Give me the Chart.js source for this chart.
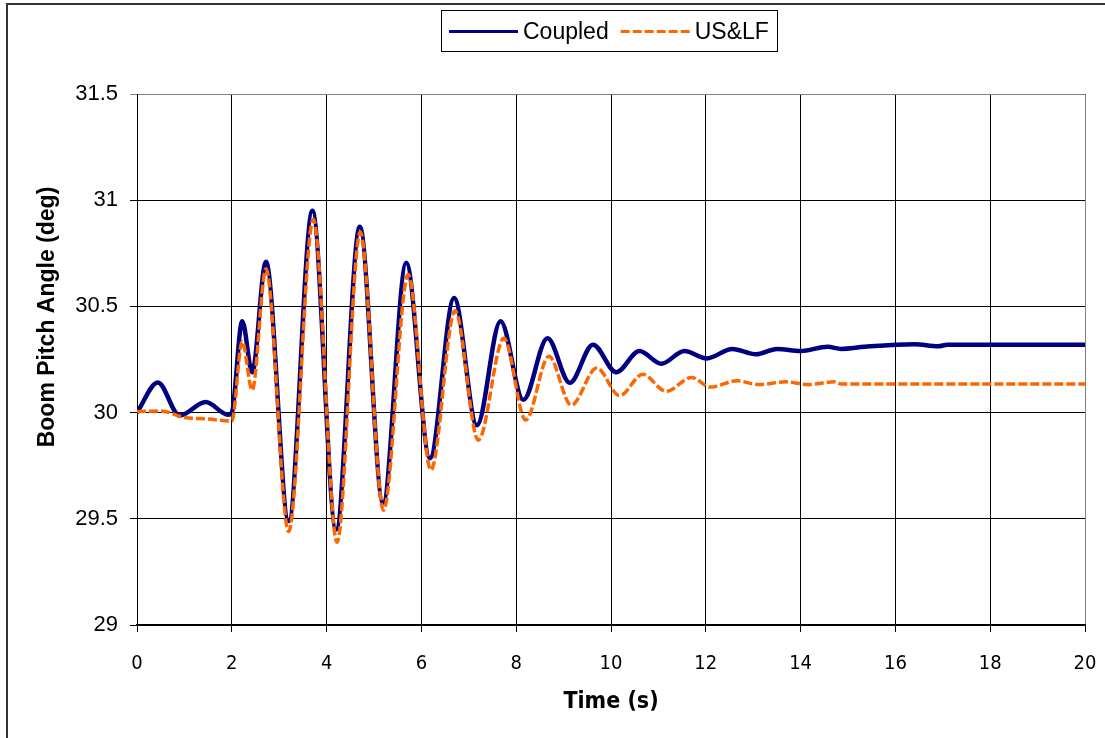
<!DOCTYPE html>
<html>
<head>
<meta charset="utf-8">
<title>Boom Pitch Angle</title>
<script src="https://cdn.jsdelivr.net/npm/chart.js@4.4.0/dist/chart.umd.min.js"></script>
<style>
  html, body { margin: 0; padding: 0; background: #fff; }
  #chart { display: block; }
</style>
</head>
<body>
<canvas id="chart" width="1105" height="738"></canvas>
<script>
// Values (peaks, troughs and a few turning points)
const coupledTime = [0, 0.44, 0.9, 1.45, 1.92, 2.0, 2.22, 2.43, 2.72, 3.2, 3.7, 4.2, 4.7, 5.19, 5.68, 6.18, 6.69, 7.17, 7.67, 8.15, 8.66, 9.13, 9.62, 10.11, 10.6, 11.06, 11.55, 12.02, 12.56, 13.06, 13.5, 14.0, 14.57, 14.86, 15.35, 16.4, 16.9, 17.1, 20];
const coupledAngle = [30.0, 30.142, 29.986, 30.05, 29.99, 30.0, 30.43, 30.19, 30.71, 29.49, 30.95, 29.45, 30.875, 29.575, 30.705, 29.785, 30.54, 29.94, 30.43, 30.06, 30.35, 30.14, 30.32, 30.19, 30.29, 30.23, 30.29, 30.255, 30.30, 30.275, 30.30, 30.29, 30.31, 30.30, 30.31, 30.322, 30.312, 30.32, 30.32];

const uslfTime = [0, 0.5, 1.0, 1.5, 2.0, 2.22, 2.43, 2.72, 3.2, 3.72, 4.22, 4.71, 5.2, 5.72, 6.2, 6.71, 7.2, 7.74, 8.2, 8.69, 9.16, 9.7, 10.18, 10.67, 11.16, 11.7, 12.1, 12.66, 13.1, 13.7, 14.15, 14.72, 14.86, 20];
const uslfAngle = [30.005, 30.008, 29.977, 29.97, 29.96, 30.336, 30.106, 30.677, 29.44, 30.91, 29.39, 30.85, 29.54, 30.65, 29.73, 30.48, 29.87, 30.35, 29.965, 30.265, 30.035, 30.21, 30.08, 30.18, 30.10, 30.165, 30.12, 30.15, 30.132, 30.145, 30.132, 30.145, 30.135, 30.135];

const seriesNames = ["Coupled", "US&LF"];
const xTicks = [0, 2, 4, 6, 8, 10, 12, 14, 16, 18, 20];
const yTicks = ["29", "29.5", "30", "30.5", "31", "31.5"];

const NAVY = "#000080";
const ORANGE = "#FF6600";

function toPoints(xs, ys) {
  return xs.map((x, i) => ({ x: x, y: ys[i] }));
}

// background, outer frame, legend box and y title
const decorations = {
  id: "decorations",
  beforeDraw(chart) {
    const ctx = chart.ctx;
    ctx.save();
    ctx.fillStyle = "#fff";
    ctx.fillRect(0, 0, chart.width, chart.height);
    ctx.strokeStyle = "#333";
    ctx.lineWidth = 2;
    ctx.beginPath();
    ctx.moveTo(7, chart.height);
    ctx.lineTo(7, 4);
    ctx.lineTo(chart.width, 4);
    ctx.stroke();
    ctx.restore();
  },
  afterDraw(chart) {
    const ctx = chart.ctx;
    const sets = chart.data.datasets;
    ctx.save();

    // legend
    ctx.font = "23px 'Liberation Sans', Arial, sans-serif";
    ctx.textBaseline = "middle";
    ctx.textAlign = "left";
    const boxLeft = 441.5, boxTop = 10.5, boxW = 336, boxH = 41;
    const midY = 31.5;
    const sample = 69;
    let x = 449;
    const order = [1, 0]; // Coupled first, then US&LF
    order.forEach(k => {
      const ds = sets[k];
      ctx.strokeStyle = ds.borderColor;
      ctx.lineWidth = 3;
      ctx.setLineDash(ds.borderDash || []);
      ctx.beginPath();
      ctx.moveTo(x, midY);
      ctx.lineTo(x + sample, midY);
      ctx.stroke();
      ctx.setLineDash([]);
      x += sample + 5;
      ctx.fillStyle = "#000";
      ctx.fillText(ds.label, x, midY + 1);
      x += ctx.measureText(ds.label).width + 12;
    });
    ctx.strokeStyle = "#000";
    ctx.lineWidth = 1;
    ctx.strokeRect(boxLeft, boxTop, boxW, boxH);

    // y axis title
    ctx.font = "bold 23px 'Liberation Sans', Arial, sans-serif";
    ctx.textAlign = "center";
    ctx.translate(48, 317);
    ctx.rotate(-Math.PI / 2);
    ctx.fillText("Boom Pitch Angle (deg)", 0, 0);
    ctx.restore();
  }
};

const chart = new Chart(document.getElementById("chart"), {
  type: "line",
  data: {
    datasets: [
      {
        label: seriesNames[1],
        data: toPoints(uslfTime, uslfAngle),
        borderColor: ORANGE,
        borderWidth: 3.5,
        borderDash: [9, 3],
        pointRadius: 0,
        cubicInterpolationMode: "monotone",
        fill: false,
        order: 1
      },
      {
        label: seriesNames[0],
        data: toPoints(coupledTime, coupledAngle),
        borderColor: NAVY,
        borderWidth: 4.5,
        pointRadius: 0,
        cubicInterpolationMode: "monotone",
        fill: false,
        order: 2
      }
    ]
  },
  options: {
    responsive: false,
    animation: false,
    layout: { padding: { top: 94, right: 20, left: 0, bottom: 0 } },
    plugins: {
      legend: { display: false },
      tooltip: { enabled: false }
    },
    scales: {
      x: {
        type: "linear",
        min: xTicks[0],
        max: xTicks[xTicks.length - 1],
        afterBuildTicks: axis => { axis.ticks = xTicks.map(v => ({ value: v })); },
        afterFit: axis => {
          axis.height = 113;
          axis.paddingLeft = 0;
          axis.paddingRight = 0;
        },
        ticks: {
          color: "#000",
          padding: 20,
          maxRotation: 0,
          font: { family: "'DejaVu Sans Condensed', 'Liberation Sans', Arial, sans-serif", size: 20 }
        },
        grid: {
          color: c => (c.tick && c.tick.value === 20 ? "#808080" : "#000"),
          lineWidth: 1,
          tickLength: 7,
          tickColor: "#000"
        },
        border: { color: "#000", width: 1.5 },
        title: {
          display: true,
          text: "Time (s)",
          color: "#000",
          padding: { top: 0, bottom: 22 },
          font: { family: "'DejaVu Sans Condensed', 'Liberation Sans', Arial, sans-serif", size: 23, weight: "bold" }
        }
      },
      y: {
        type: "linear",
        min: 29,
        max: 31.5,
        afterBuildTicks: axis => { axis.ticks = yTicks.map(v => ({ value: parseFloat(v) })); },
        afterFit: axis => {
          axis.width = 137;
          axis.paddingTop = 0;
          axis.paddingBottom = 0;
        },
        ticks: {
          color: "#000",
          padding: 12,
          callback: (v, i) => yTicks[i],
          font: { family: "'Liberation Sans', Arial, sans-serif", size: 22 }
        },
        grid: {
          color: c => (c.tick && c.tick.value === 31.5 ? "#808080" : "#000"),
          lineWidth: 1,
          tickLength: 7
        },
        border: { color: "#000", width: 1 },
        title: { display: false }
      }
    }
  },
  plugins: [decorations]
});
</script>
</body>
</html>
